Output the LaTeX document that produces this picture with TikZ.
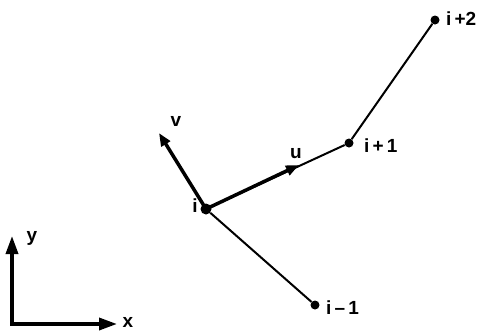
\documentclass[tikz,border=0pt]{standalone}
\usepackage{fontspec}
\setmainfont{Liberation Sans}
\usetikzlibrary{arrows.meta}
\tikzset{
  dot/.style={circle,fill=black,inner sep=0pt,minimum size=9pt},
  bigdot/.style={circle,fill=black,inner sep=0pt,minimum size=11pt},
  lab/.style={font=\bfseries\fontsize{19}{19}\selectfont,inner sep=0pt},
  thinline/.style={line width=2pt},
  vec/.style={line width=3.5pt,-{Triangle[length=13pt,width=10pt]}},
  axis/.style={line width=3.5pt,-{Triangle[length=18pt,width=12pt]}}
}
\begin{document}
\begin{tikzpicture}[x=1pt,y=-1pt]
\useasboundingbox (0,0) rectangle (488,333);
\node[bigdot] (i) at (206,209) {};
\node[dot] (ip1) at (349,143) {};
\node[dot] (ip2) at (435,20) {};
\node[dot] (im1) at (315,305) {};
\coordinate (vend) at (159,133);
\coordinate (uend) at (299,165);
\coordinate (o) at (12,324);
\coordinate (yend) at (12,236);
\coordinate (xend) at (117,324);
\draw[thinline] (i) -- (ip1) -- (ip2);
\draw[thinline] (i) -- (im1);
\draw[vec] (i.center) -- (vend);
\draw[vec] (i.center) -- (uend);
\draw[axis] (o) -- (yend);
\draw[axis] ([xshift=-1.75pt]o) -- (xend);
\node[lab] (lv) at (176,121) {v};
\node[lab] (lu) at (296,154) {u};
\node[lab] (li) at (195,206) {i};
\node[lab,anchor=west] (lip1) at (364,146) {i\,+\,1};
\node[lab,anchor=west] (lip2) at (446,19) {i\,+2};
\node[lab,anchor=west] (lim1) at (326,308) {i\,–\,1};
\node[lab] (ly) at (32,238) {y};
\node[lab] (lx) at (128,322) {x};
\end{tikzpicture}
\end{document}
